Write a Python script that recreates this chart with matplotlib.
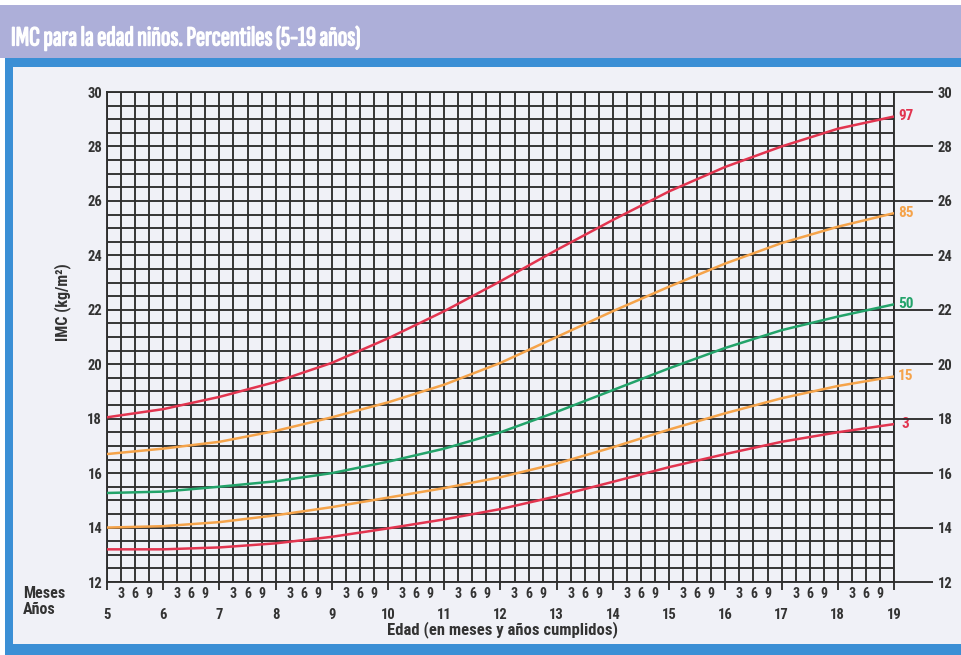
import matplotlib
matplotlib.use("Agg")
import matplotlib.pyplot as plt
import matplotlib.patheffects as pe
from matplotlib.patches import Rectangle
from matplotlib.ticker import FixedLocator, FixedFormatter, MultipleLocator

# ---------------- data ----------------
ages = [5, 6, 7, 8, 9, 10, 11, 12, 13, 14, 15, 16, 17, 18, 19]
p97 = [18.05, 18.35, 18.80, 19.35, 20.05, 20.95, 21.95, 23.05, 24.20, 25.30, 26.35, 27.25, 28.00, 28.65, 29.10]
p85 = [16.70, 16.90, 17.15, 17.55, 18.05, 18.60, 19.25, 20.05, 21.00, 21.95, 22.85, 23.70, 24.45, 25.05, 25.55]
p50 = [15.27, 15.32, 15.50, 15.70, 16.00, 16.42, 16.90, 17.50, 18.25, 19.05, 19.85, 20.60, 21.25, 21.75, 22.20]
p15 = [14.00, 14.05, 14.20, 14.45, 14.75, 15.10, 15.45, 15.85, 16.35, 16.95, 17.60, 18.20, 18.75, 19.20, 19.55]
p3 = [13.20, 13.20, 13.27, 13.42, 13.66, 13.97, 14.30, 14.68, 15.15, 15.68, 16.22, 16.70, 17.15, 17.50, 17.80]
series_labels = ["97", "85", "50", "15", "3"]
series_values = [p97, p85, p50, p15, p3]
year_ticks = list(range(5, 20))
month_labels = ["3", "6", "9"]
bmi_ticks = list(range(12, 31, 2))

title = "IMC para la edad niños. Percentiles (5-19 años)"
xlabel = "Edad (en meses y años cumplidos)"
ylabel = "IMC (kg/m²)"

# ---------------- style ----------------
RED = "#e2344f"
ORANGE = "#f5a34a"
GREEN = "#23a36a"
colors = [RED, ORANGE, GREEN, ORANGE, RED]
GRID = "#2e2e2e"
TXT = "#333333"
LAV = "#adafd9"
BLUE = "#3b8fd5"
PANEL = "#f0f1f7"
FONT = ["Roboto Condensed", "DejaVu Sans"]
TFONT = ["Sofia Sans Extra Condensed", "Roboto Condensed", "DejaVu Sans"]
plt.rcParams["font.family"] = FONT

W, H = 961, 655
fig = plt.figure(figsize=(W / 100, H / 100), dpi=100)
fig.patch.set_facecolor("white")

def frect(x0, y0, x1, y1, color):
    fig.patches.append(Rectangle((x0 / W, 1 - y1 / H), (x1 - x0) / W, (y1 - y0) / H,
                                 transform=fig.transFigure, facecolor=color,
                                 edgecolor="none", zorder=-10))

frect(0, 5, W, 58, LAV)
frect(5, 58, W, 67, BLUE)
frect(5, 58, 13, H, BLUE)
frect(5, 644, W, H, BLUE)
frect(13, 67, W, 644, PANEL)

fig.text(11 / W, 1 - 38 / H, title, family=TFONT, weight="bold", fontsize=20,
         color="white", ha="left", va="center",
         path_effects=[pe.withStroke(linewidth=1.0, foreground="white")])

# ---------------- axes ----------------
x0p, x1p, y0p, y1p = 107, 894, 92, 582
ax = fig.add_axes([x0p / W, 1 - y1p / H, (x1p - x0p) / W, (y1p - y0p) / H])
ax.set_facecolor("none")
ax.set_xlim(5, 19)
ax.set_ylim(12, 30)

LW = 1.35
quarters = [y + q / 4 for y in year_ticks[:-1] for q in (1, 2, 3)]
qlabels = [month_labels[q - 1] for y in year_ticks[:-1] for q in (1, 2, 3)]
ax.xaxis.set_major_locator(FixedLocator(year_ticks))
ax.xaxis.set_major_formatter(FixedFormatter([str(y) for y in year_ticks]))
ax.xaxis.set_minor_locator(FixedLocator(quarters))
ax.xaxis.set_minor_formatter(FixedFormatter(qlabels))
ax.yaxis.set_major_locator(FixedLocator(bmi_ticks))
ax.yaxis.set_minor_locator(MultipleLocator(0.5))
ax.grid(True, which="both", color=GRID, lw=LW)
ax.set_axisbelow(True)
for s in ax.spines.values():
    s.set_color(GRID)
    s.set_linewidth(LW)

# y axis (left): labels only
ax.tick_params(axis="y", which="major", length=0, pad=3.5, labelsize=10.5, labelcolor=TXT)
ax.tick_params(axis="y", which="minor", length=0)
for t in ax.get_yticklabels():
    t.set_fontweight("bold")

# x axis: years major with short ticks, months as minor labels
ax.tick_params(axis="x", which="major", direction="out", length=6, width=LW, color=GRID,
               pad=13, labelsize=10.5, labelcolor=TXT)
ax.tick_params(axis="x", which="minor", length=0, pad=3.5, labelsize=10, labelcolor=TXT)
for t in ax.get_xticklabels(which="both"):
    t.set_fontweight("bold")

# right axis with long outward ticks
axr = ax.twinx()
axr.set_ylim(12, 30)
axr.yaxis.set_major_locator(FixedLocator(bmi_ticks))
axr.tick_params(axis="y", which="major", direction="out", length=28, width=LW, color=GRID,
                pad=3.5, labelsize=10.5, labelcolor=TXT)
for t in axr.get_yticklabels():
    t.set_fontweight("bold")
for s in axr.spines.values():
    s.set_visible(False)

# curves
for lab, vals, c in zip(series_labels, series_values, colors):
    ax.plot(ages, vals, color=c, lw=1.8, solid_capstyle="butt", zorder=3)
    ax.text(19.21, vals[-1], lab, color=c, fontsize=11, fontweight="bold",
            ha="center", va="center", clip_on=False, zorder=4)

# labels
fig.text(23 / W, 1 - 593 / H, "Meses", fontsize=11.5, fontweight="bold", color=TXT,
         ha="left", va="center")
fig.text(23 / W, 1 - 610 / H, "Años", fontsize=11.5, fontweight="bold", color=TXT,
         ha="left", va="center")
fig.text(502 / W, 1 - 630 / H, xlabel, fontsize=12, fontweight="bold", color=TXT,
         ha="center", va="center")
fig.text(63 / W, 1 - 302 / H, ylabel, fontsize=11.5, fontweight="bold", color=TXT,
         ha="center", va="center", rotation=90)

fig.savefig("out.png", dpi=100, facecolor=fig.get_facecolor())
